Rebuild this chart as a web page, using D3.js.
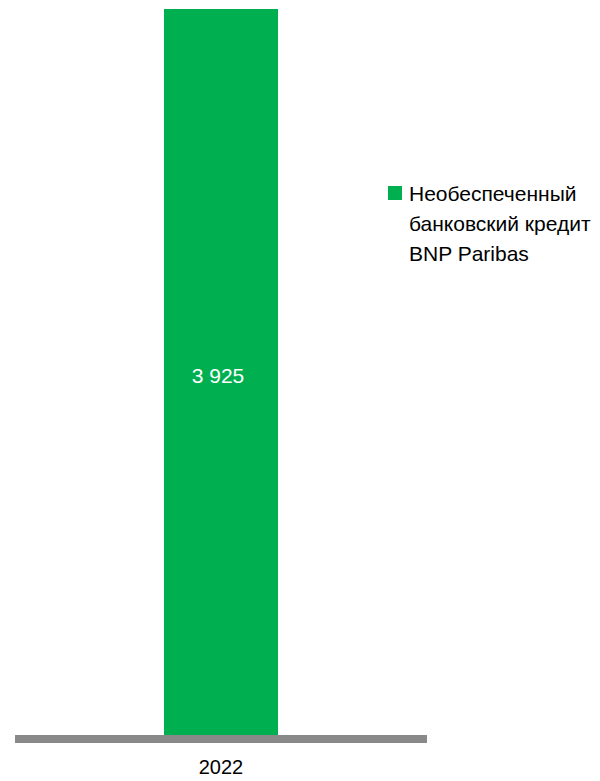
<!DOCTYPE html>
<html>
<head>
<meta charset="utf-8">
<script src="https://d3js.org/d3.v7.min.js"></script>
<style>
  body { margin: 0; background: #fff; }
  text { font-family: "Liberation Sans", Arial, sans-serif; }
</style>
</head>
<body>
<div id="chart"></div>
<script>
// data
var categories = ["2022"];
var values = [3925];
var seriesName = ["Необеспеченный", "банковский кредит", "BNP Paribas"];

var width = 600, height = 781;

var svg = d3.select("#chart")
  .append("svg")
  .attr("width", width)
  .attr("height", height);

// scales
var x = d3.scaleBand()
    .domain(categories)
    .range([15, 427])
    .paddingInner(0)
    .paddingOuter(1.307);   // bar is ~114px wide inside the 412px plot

var y = d3.scaleLinear()
    .domain([0, d3.max(values)])
    .range([735, 9]);

var fmt = function(v) { return d3.format(",")(v).replace(/,/g, " "); };

// bars
svg.append("g")
  .selectAll("rect")
  .data(values)
  .enter()
  .append("rect")
  .attr("x", function(d, i) { return x(categories[i]); })
  .attr("width", x.bandwidth())
  .attr("y", function(d) { return y(d); })
  .attr("height", function(d) { return y(0) - y(d); })
  .attr("fill", "#00b050");

// value labels
svg.append("g")
  .selectAll("text")
  .data(values)
  .enter()
  .append("text")
  .attr("x", function(d, i) { return x(categories[i]) + x.bandwidth() / 2 - 3; })
  .attr("y", function(d) { return (y(d) + y(0)) / 2 + 11; })
  .attr("text-anchor", "middle")
  .style("font-size", "21px")
  .style("fill", "#fff")
  .text(function(d) { return fmt(d); });

// x axis baseline
svg.append("rect")
  .attr("x", x.range()[0])
  .attr("y", y(0))
  .attr("width", x.range()[1] - x.range()[0])
  .attr("height", 8)
  .attr("fill", "#898989");

// category labels
svg.append("g")
  .selectAll("text")
  .data(categories)
  .enter()
  .append("text")
  .attr("x", function(d) { return x(d) + x.bandwidth() / 2; })
  .attr("y", 774)
  .attr("text-anchor", "middle")
  .style("font-size", "20px")
  .style("fill", "#000")
  .text(function(d) { return d; });

// legend
var legend = svg.append("g").attr("transform", "translate(388,186)");
legend.append("rect")
  .attr("width", 14)
  .attr("height", 14)
  .attr("fill", "#00b050");
legend.append("text")
  .attr("x", 21)
  .attr("y", 15)
  .style("font-size", "21px")
  .style("fill", "#000")
  .selectAll("tspan")
  .data(seriesName)
  .enter()
  .append("tspan")
  .attr("x", 21)
  .attr("dy", function(d, i) { return i === 0 ? 0 : 30; })
  .text(function(d) { return d; });
</script>
</body>
</html>
